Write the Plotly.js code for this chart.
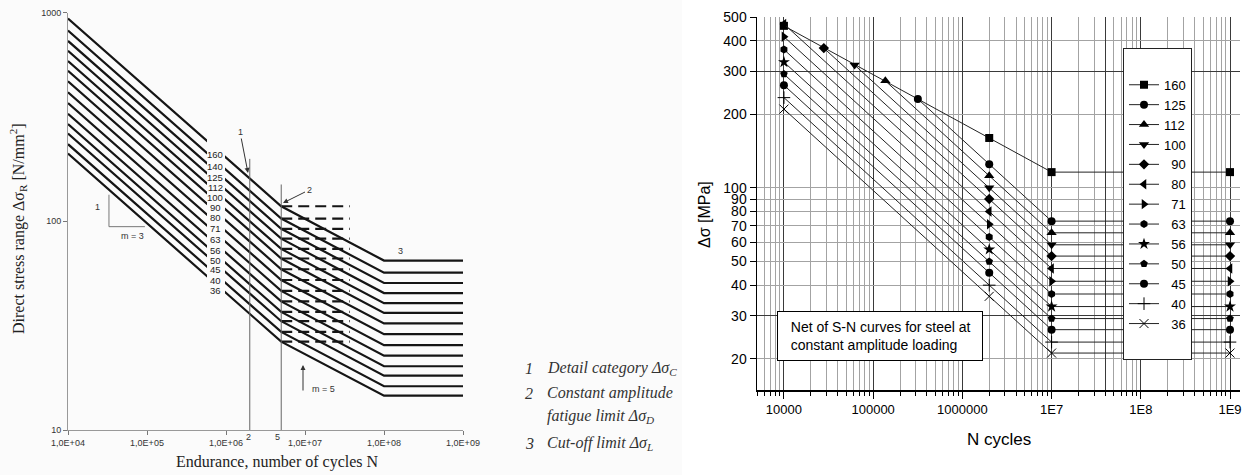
<!DOCTYPE html>
<html><head><meta charset="utf-8">
<script src="https://cdn.plot.ly/plotly-3.0.1.min.js"></script>
<style>html,body{margin:0;padding:0;background:#fff}</style>
</head><body><div id="chart" style="width:1250px;height:475px"></div>
<script>
// ---------- Left chart: fatigue strength curves ----------
const leftCategories   = [160,140,125,112,100,90,80,71,63,56,50,45,40,36];
const leftStressAt1e4  = [936,819,731,655,585,526,468,415,368,327,292,263,234,211];
const leftStressAtD    = [118,103,92,82.5,73.7,66.3,58.9,52.3,46.4,41.3,36.8,33.2,29.5,26.5];
const leftStressAtL    = [64.8,56.7,50.6,45.3,40.5,36.4,32.4,28.8,25.5,22.7,20.2,18.2,16.2,14.6];
const leftN            = [1e4, 5e6, 1e8, 1e9];
const leftDashN        = [5e6, 3.7e7];
const leftTickVals     = [1e4,1e5,1e6,1e7,1e8,1e9];
const leftTickText     = ['1,0E+04','1,0E+05','1,0E+06','1,0E+07','1,0E+08','1,0E+09'];
const leftRefN         = [2e6, 5e6];
const leftRefTop       = [199, 150];
const slopeTriN        = [3.3e4, 3.3e4, 9.4e4];
const slopeTriS        = [134, 94.2, 94.2];

// ---------- Right chart: net of S-N curves ----------
const rightNames    = ['160','125','112','100','90','80','71','63','56','50','45','40','36'];
const rightSymbols  = ['square','circle','triangle-up','triangle-down','diamond','triangle-left','triangle-right','hexagon','star','pentagon','circle','cross-thin','x-thin'];
const rightStartN   = [1e4, 3.17e5, 1.37e5, 6.2e4, 2.8e4, 1e4, 1e4, 1e4, 1e4, 1e4, 1e4, 1e4, 1e4];
const rightStartS   = [460, 231, 274, 318, 373, 468, 415, 368, 327, 292, 263, 234, 210];
const rightAt2e6    = [160,125,112,100,90,80,71,63,56,50,45,40,36];
const rightAt1e7    = [116,73.1,65.5,58.5,52.6,46.8,41.5,36.8,32.7,29.2,26.3,23.4,21.1];
const rightN        = [2e6, 1e7, 1e9];
const rightXTicks   = [1e4,1e5,1e6,1e7,1e8,1e9];
const rightXText    = ['10000','100000','1000000','1E7','1E8','1E9'];
const rightYTicks   = [20,30,40,50,60,70,80,90,100,200,300,400,500];

const W = 1250, H = 475;
const P = x => x / W;
const Q = y => 1 - y / H;
const SANS = 'Liberation Sans, Arial, sans-serif';
const SERIF = 'Liberation Serif, Times New Roman, serif';
const BG = '#fbfbfb';

const traces = [];
// left curves
leftCategories.forEach((c, i) => {
  traces.push({
    x: leftN, y: [leftStressAt1e4[i], leftStressAtD[i], leftStressAtL[i], leftStressAtL[i]],
    xaxis: 'x', yaxis: 'y', mode: 'lines', showlegend: false, hoverinfo: 'skip',
    line: {color: '#151515', width: 2.2}
  });
  traces.push({
    x: leftDashN, y: [leftStressAtD[i], leftStressAtD[i]],
    xaxis: 'x', yaxis: 'y', mode: 'lines', showlegend: false, hoverinfo: 'skip',
    line: {color: '#151515', width: 2.2, dash: '11px,6px'}
  });
});
leftRefN.forEach((n, i) => {
  traces.push({
    x: [n, n], y: [10, leftRefTop[i]], xaxis: 'x', yaxis: 'y', mode: 'lines',
    showlegend: false, hoverinfo: 'skip', line: {color: '#666', width: 1}
  });
});
traces.push({
  x: slopeTriN, y: slopeTriS, xaxis: 'x', yaxis: 'y', mode: 'lines',
  showlegend: false, hoverinfo: 'skip', line: {color: '#777', width: 1}
});

// right curves
rightNames.forEach((nm, i) => {
  const open = rightSymbols[i].endsWith('-thin');
  const sym = rightSymbols[i];
  traces.push({
    x: [rightStartN[i]].concat(rightN),
    y: [rightStartS[i], rightAt2e6[i], rightAt1e7[i], rightAt1e7[i]],
    xaxis: 'x2', yaxis: 'y2', mode: 'lines+markers', name: (nm.length < 3 ? '\u2007' : '') + nm,
    line: {color: '#222', width: 1},
    marker: {symbol: sym, size: sym === 'star' ? 9 : (open ? 9 : (sym.startsWith('triangle') ? 9 : 8)),
             color: '#000', line: {color: '#000', width: open ? 1 : 0}}
  });
});
// spacer legend row
traces.push({x: [null], y: [null], xaxis: 'x2', yaxis: 'y2', mode: 'markers', name: '\u00a0',
  marker: {color: 'rgba(0,0,0,0)', size: 1}});
// overlay axes carrier for dark grid lines
traces.push({x: [null], y: [null], xaxis: 'x3', yaxis: 'y3', mode: 'markers', showlegend: false,
  marker: {color: 'rgba(0,0,0,0)'}});

const minorX = [];
for (let e = 3; e <= 9; e++) for (let d = 2; d <= 9; d++) {
  const v = d * Math.pow(10, e);
  if (v >= 4990 && v <= 1.29e9) minorX.push(v);
}
const yRange2 = [Math.log10(14.9), Math.log10(500)];
const xRange2 = [3.698, 9.112];

const annotations = [];
// category labels (left)
leftCategories.forEach(c => {
  annotations.push({xref: 'x', yref: 'y', x: Math.log10(7.3e5), y: Math.log10(c * 1.3),
    xanchor: 'center', yanchor: 'middle',
    text: String(c), showarrow: false, font: {family: SANS, size: 9.5, color: '#222'}});
});
const txt = (x, y, text, font, extra) => Object.assign({xref: 'paper', yref: 'paper', x: P(x), y: Q(y),
  xanchor: 'center', yanchor: 'middle', text: text, showarrow: false, font: font}, extra || {});
const small = {family: SANS, size: 9, color: '#333'};
annotations.push(
  Object.assign(txt(248, 173, '1', small), {showarrow: true, ax: -8, ay: -41, arrowhead: 2, arrowsize: 1, arrowwidth: 1, arrowcolor: '#333'}),
  Object.assign(txt(283, 203, '2', small), {showarrow: true, ax: 26, ay: -13, arrowhead: 2, arrowsize: 1, arrowwidth: 1, arrowcolor: '#333'}),
  txt(400, 251, '3', small),
  txt(97, 207, '1', small),
  txt(132, 236, 'm = 3', small),
  Object.assign(txt(303, 365, '', small), {showarrow: true, ax: 0, ay: 27, arrowhead: 2, arrowsize: 1, arrowwidth: 1, arrowcolor: '#333'}),
  txt(323, 389, 'm = 5', small),
  txt(249, 437, '2', small),
  txt(277, 437, '5', small),
  txt(277, 462, 'Endurance, number of cycles N', {family: SERIF, size: 16, color: '#222'}),
  txt(18, 229, 'Direct stress range Δσ<sub>R</sub> [N/mm<sup>2</sup>]', {family: SERIF, size: 16, color: '#222'}, {textangle: -90})
);
const ital = {family: SERIF, size: 16, color: '#333'};
annotations.push(
  txt(529, 368, '<i>1</i>', ital),
  txt(545, 368, '<i>Detail category Δσ<sub>C</sub></i>', ital, {xanchor: 'left'}),
  txt(529, 393, '<i>2</i>', ital),
  txt(545, 393, '<i>Constant amplitude</i>', ital, {xanchor: 'left'}),
  txt(545, 416, '<i>fatigue limit Δσ<sub>D</sub></i>', ital, {xanchor: 'left'}),
  txt(529, 443, '<i>3</i>', ital),
  txt(545, 443, '<i>Cut-off limit Δσ<sub>L</sub></i>', ital, {xanchor: 'left'})
);
// right chart texts
annotations.push(
  txt(704, 215, 'Δσ [MPa]', {family: SANS, size: 16, color: '#000'}, {textangle: -90}),
  txt(999, 439, 'N cycles', {family: SANS, size: 17, color: '#000'}),
  txt(880, 336, '\u00a0\u00a0Net of S-N curves for steel at<br>\u00a0\u00a0constant amplitude loading',
      {family: SANS, size: 14, color: '#000'},
      {align: 'left', width: 194, height: 38, borderpad: 5, bordercolor: '#000', borderwidth: 1, bgcolor: '#fff'})
);

const layout = {
  width: W, height: H, autosize: false,
  margin: {l: 0, r: 0, t: 0, b: 0, pad: 0},
  paper_bgcolor: '#fff', plot_bgcolor: 'rgba(0,0,0,0)',
  font: {family: SANS, color: '#000'},
  showlegend: true,
  legend: {x: P(1123), y: Q(48), xanchor: 'left', yanchor: 'top',
    bgcolor: '#fff', bordercolor: '#222', borderwidth: 1,
    font: {family: SANS, size: 13, color: '#000'},
    title: {text: '\u00a0', font: {size: 16}}, itemwidth: 30, traceorder: 'normal'},
  xaxis: {domain: [P(68), P(463)], anchor: 'y', type: 'log', range: [4, 9],
    tickmode: 'array', tickvals: leftTickVals, ticktext: leftTickText,
    ticks: 'outside', ticklen: 4, tickcolor: '#777', showline: true, linecolor: '#999', linewidth: 1,
    showgrid: false, zeroline: false, tickfont: {family: SANS, size: 9, color: '#333'}},
  yaxis: {domain: [Q(430), Q(12.5)], anchor: 'x', type: 'log', range: [1, 3],
    tickmode: 'array', tickvals: [10, 100, 1000], ticktext: ['10', '100', '1000'],
    ticks: 'outside', ticklen: 4, tickcolor: '#777', showline: true, linecolor: '#999', linewidth: 1,
    showgrid: false, zeroline: false, tickfont: {family: SANS, size: 9, color: '#333'}},
  xaxis2: {domain: [P(757), P(1240)], anchor: 'y2', type: 'log', range: xRange2,
    tickmode: 'array', tickvals: rightXTicks, ticktext: rightXText,
    ticks: 'outside', ticklen: 7, tickcolor: '#000', showline: true, linecolor: '#000', linewidth: 1.5,
    showgrid: true, gridcolor: '#3a3a3a', gridwidth: 1, zeroline: false,
    minor: {tickmode: 'array', tickvals: minorX, ticks: 'outside', ticklen: 4, tickcolor: '#000',
            showgrid: true, gridcolor: '#a3a3a3', gridwidth: 1},
    tickfont: {family: SANS, size: 13, color: '#000'}},
  yaxis2: {domain: [Q(390), Q(17)], anchor: 'x2', type: 'log', range: yRange2,
    tickmode: 'array', tickvals: rightYTicks, ticktext: rightYTicks.map(String),
    ticks: 'outside', ticklen: 6, tickcolor: '#000', showline: true, linecolor: '#000', linewidth: 1.5,
    showgrid: true, gridcolor: '#a3a3a3', gridwidth: 1, zeroline: false,
    tickfont: {family: SANS, size: 14, color: '#000'}},
  xaxis3: {overlaying: 'x2', anchor: 'y3', type: 'log', range: xRange2, tickmode: 'array', tickvals: [4e7],
    showticklabels: false, ticks: '', showline: false, zeroline: false, showgrid: true, gridcolor: '#3a3a3a'},
  yaxis3: {overlaying: 'y2', anchor: 'x3', type: 'log', range: yRange2, tickmode: 'array', tickvals: [30, 300],
    showticklabels: false, ticks: '', showline: false, zeroline: false, showgrid: true, gridcolor: '#3a3a3a'},
  shapes: [
    {type: 'rect', xref: 'paper', yref: 'paper', x0: 0, x1: P(682), y0: 0, y1: 1,
     fillcolor: BG, line: {width: 0}, layer: 'below'},
    {type: 'rect', xref: 'paper', yref: 'paper', x0: P(207), x1: P(225), y0: Q(298), y1: Q(138),
     fillcolor: BG, line: {width: 0}, layer: 'above'}
  ],
  annotations: annotations
};

Plotly.newPlot('chart', traces, layout, {displayModeBar: false, staticPlot: true});
</script>
</body></html>
